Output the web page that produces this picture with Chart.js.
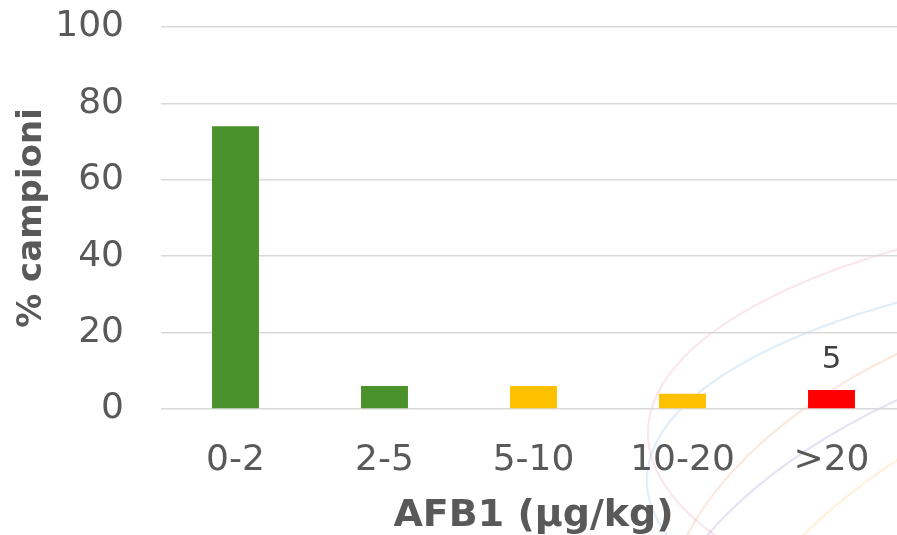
<!DOCTYPE html>
<html>
<head>
<meta charset="utf-8">
<script src="https://cdn.jsdelivr.net/npm/chart.js@4.4.1/dist/chart.umd.min.js"></script>
<style>
  html, body { margin: 0; padding: 0; background: #ffffff; overflow: hidden; }
  #wrap { width: 897px; height: 535px; overflow: hidden; position: relative; }
  #wrap canvas { display: block; }
</style>
</head>
<body>
<div id="wrap"><canvas id="c" width="910" height="535" style="width:910px;height:535px"></canvas></div>
<script>
// AFB1 concentration classes and share of samples (%)
const categories = ['0-2', '2-5', '5-10', '10-20', '>20'];
const percentages = [74, 6, 6, 4, 5];
const barColors = ['#4a922b', '#4a922b', '#ffc000', '#ffc000', '#ff0000'];
// only the last class carries a value label
const labelledBars = [4];
const yTicks = [0, 20, 40, 60, 80, 100];

const FONT = '"DejaVu Sans", Verdana, sans-serif';

// faint pastel swirl behind the plot, bottom right
const swirl = {
  id: 'swirl',
  beforeDraw(chart) {
    const ctx = chart.ctx;
    ctx.save();
    ctx.lineWidth = 2.2;
    const arcs = [
      { cx: 1350, cy: 433, rx: 702, ry: 240, col: 'rgba(235,150,175,0.24)' },
      { cx: 1350, cy: 480, rx: 703, ry: 232, col: 'rgba(140,190,235,0.26)' },
      { cx: 1400, cy: 640, rx: 740, ry: 390, col: 'rgba(240,165,120,0.24)' },
      { cx: 1400, cy: 700, rx: 760, ry: 400, col: 'rgba(150,140,205,0.24)' },
      { cx: 1450, cy: 780, rx: 760, ry: 466, col: 'rgba(250,205,110,0.26)' }
    ];
    arcs.forEach(a => {
      ctx.strokeStyle = a.col;
      ctx.beginPath();
      ctx.ellipse(a.cx, a.cy, a.rx, a.ry, 0, Math.PI * 0.8, Math.PI * 1.6);
      ctx.stroke();
    });
    ctx.restore();
  }
};

// value labels above selected bars
const valueLabels = {
  id: 'valueLabels',
  afterDatasetsDraw(chart) {
    const ctx = chart.ctx;
    const meta = chart.getDatasetMeta(0);
    ctx.save();
    ctx.font = '31px ' + FONT;
    ctx.fillStyle = '#404040';
    ctx.textAlign = 'center';
    ctx.textBaseline = 'middle';
    labelledBars.forEach(i => {
      const bar = meta.data[i];
      ctx.fillText(String(percentages[i]), bar.x, bar.y - 30);
    });
    ctx.restore();
  }
};

new Chart(document.getElementById('c'), {
  type: 'bar',
  data: {
    labels: categories,
    datasets: [{
      data: percentages,
      backgroundColor: barColors,
      borderWidth: 0,
      barPercentage: 0.315,
      categoryPercentage: 1.0
    }]
  },
  options: {
    responsive: false,
    animation: false,
    events: [],
    layout: { padding: { top: 27, right: 4, left: 0, bottom: 0 } },
    plugins: { legend: { display: false }, tooltip: { enabled: false } },
    scales: {
      x: {
        grid: { display: false },
        border: { display: false },
        ticks: { color: '#595959', font: { family: FONT, size: 36 }, padding: 22 },
        title: {
          display: true,
          text: 'AFB1 (µg/kg)',
          color: '#595959',
          font: { family: FONT, size: 38, weight: 'bold', lineHeight: 1.0 },
          padding: { top: 0, bottom: 0 }
        },
        afterFit(scale) { scale.height = 126; }
      },
      y: {
        min: 0,
        max: 100,
        afterBuildTicks(scale) { scale.ticks = yTicks.map(v => ({ value: v })); },
        grid: { color: '#d9d9d9', lineWidth: 1.6, drawTicks: false },
        border: { display: false },
        ticks: { color: '#595959', font: { family: FONT, size: 36 }, padding: 37 },
        title: {
          display: true,
          text: '% campioni',
          color: '#595959',
          font: { family: FONT, size: 34, weight: 'bold' },
          padding: { top: 12, bottom: 0 }
        },
        afterFit(scale) {
          scale.width = 161;
          scale.paddingTop = 0;
          scale.paddingBottom = 0;
        }
      }
    }
  },
  plugins: [swirl, valueLabels]
});
</script>
</body>
</html>
